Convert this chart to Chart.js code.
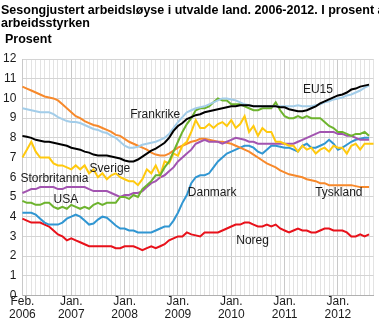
<!DOCTYPE html>
<html lang="no">
<head>
<meta charset="utf-8">
<title>Sesongjustert arbeidsløyse</title>
<script src="https://cdn.jsdelivr.net/npm/chart.js"></script>
<style>
  html, body { margin: 0; padding: 0; background: #fff; }
  #wrap { position: relative; width: 379px; height: 321px; }
</style>
</head>
<body>
<div id="wrap"><canvas id="chart"></canvas></div>
<script>
// Månader frå feb. 2006 til sep. 2012
const months = [];
for (let i = 0; i < 80; i++) {
    const t = 1 + i;
    months.push((2006 + Math.floor(t / 12)) + '-' + String(t % 12 + 1).padStart(2, '0'));
}

const eu15 = [8.1,8.05,8.0,7.9,7.85,7.8,7.8,7.75,7.7,7.65,7.6,
    7.5,7.45,7.4,7.3,7.25,7.15,7.1,7.1,7.1,7.05,7.0,6.95,
    6.85,6.8,6.8,6.9,7.05,7.2,7.35,7.45,7.6,7.75,8.0,8.35,
    8.6,8.75,8.95,9.05,9.15,9.2,9.3,9.35,9.4,9.45,9.5,9.55,
    9.6,9.6,9.65,9.65,9.65,9.6,9.6,9.6,9.6,9.6,9.6,9.55,
    9.55,9.45,9.4,9.35,9.35,9.4,9.5,9.6,9.75,9.85,9.95,10.05,
    10.15,10.2,10.3,10.45,10.5,10.6,10.65,10.7];

const frankrike = [9.5,9.45,9.4,9.35,9.3,9.3,9.3,9.2,9.05,8.95,8.85,
    8.8,8.8,8.75,8.65,8.55,8.45,8.4,8.3,8.25,8.1,8.0,7.8,
    7.6,7.5,7.5,7.55,7.65,7.7,7.75,7.8,7.9,8.0,8.2,8.5,
    8.8,9.05,9.3,9.4,9.5,9.55,9.6,9.7,9.8,9.9,10.0,10.0,
    9.95,9.9,9.8,9.7,9.65,9.6,9.6,9.6,9.6,9.6,9.6,9.6,
    9.6,9.6,9.6,9.65,9.6,9.6,9.6,9.65,9.7,9.8,9.85,9.95,
    10.0,10.05,10.15,10.2,10.3,10.4,10.55,10.65];

const tyskland = [10.6,10.5,10.4,10.3,10.2,10.1,10.05,10.0,9.9,9.7,9.5,
    9.3,9.1,9.0,8.85,8.75,8.65,8.6,8.5,8.4,8.3,8.15,8.1,
    7.95,7.8,7.7,7.6,7.5,7.4,7.25,7.15,7.1,7.1,7.2,7.35,
    7.5,7.6,7.7,7.8,7.85,7.95,7.95,7.9,7.85,7.8,7.8,7.75,
    7.7,7.6,7.5,7.4,7.3,7.15,7.0,6.85,6.7,6.6,6.5,6.35,
    6.25,6.15,6.1,6.05,6.0,5.9,5.85,5.8,5.7,5.7,5.6,5.6,
    5.6,5.6,5.6,5.6,5.55,5.5,5.5,5.5];

const sverige = [7.0,7.4,7.8,7.3,7.0,7.0,7.0,6.7,6.6,6.6,6.5,
    6.4,6.6,6.4,6.6,6.2,6.4,6.0,6.2,5.9,6.1,6.2,6.0,
    5.9,5.8,5.8,5.6,5.9,6.4,6.2,6.6,6.1,6.8,6.7,7.2,
    7.1,7.6,7.8,8.3,8.9,8.5,8.5,8.7,8.5,8.7,8.8,8.6,
    8.9,8.5,8.7,9.1,8.3,8.6,8.1,8.5,8.3,8.3,7.8,7.8,
    7.7,7.6,7.6,7.3,7.6,7.4,7.5,7.2,7.4,7.5,7.3,7.6,
    7.5,7.5,7.2,7.6,7.7,7.4,7.7,7.7,7.7];

const storbritannia = [5.2,5.3,5.4,5.4,5.5,5.5,5.5,5.5,5.4,5.4,5.5,
    5.5,5.5,5.5,5.5,5.4,5.3,5.3,5.3,5.3,5.2,5.1,5.0,
    5.1,5.1,5.2,5.2,5.3,5.5,5.7,5.8,6.0,6.1,6.3,6.5,
    6.8,7.0,7.2,7.4,7.7,7.8,7.9,7.8,7.8,7.8,7.7,7.8,
    7.9,8.0,7.95,7.9,7.8,7.8,7.7,7.7,7.7,7.7,7.7,7.7,
    7.7,7.7,7.7,7.8,7.9,8.0,8.1,8.2,8.3,8.3,8.3,8.3,
    8.2,8.2,8.1,8.1,8.0,7.9,7.9,7.9];

const usa = [4.8,4.7,4.7,4.6,4.6,4.7,4.7,4.5,4.4,4.5,4.4,
    4.6,4.5,4.4,4.5,4.4,4.6,4.7,4.6,4.7,4.7,4.7,5.0,
    5.0,4.9,5.1,5.0,5.4,5.6,5.8,6.1,6.1,6.5,6.8,7.3,
    7.8,8.3,8.7,9.0,9.4,9.5,9.5,9.6,9.8,10.0,9.9,9.9,
    9.7,9.7,9.7,9.6,9.5,9.4,9.4,9.5,9.5,9.5,9.8,9.4,
    9.1,9.0,9.0,9.1,9.0,9.1,9.0,9.0,9.0,8.8,8.6,8.5,
    8.3,8.3,8.2,8.1,8.2,8.2,8.3,8.1];

const danmark = [4.2,4.2,4.2,4.1,3.9,3.7,3.6,3.6,3.6,3.7,3.9,
    4.0,4.1,4.0,3.8,3.6,3.65,3.85,4.0,3.95,3.75,3.55,3.4,
    3.4,3.3,3.3,3.2,3.2,3.2,3.2,3.3,3.4,3.5,3.5,3.8,
    4.2,4.7,5.1,5.7,6.0,6.1,6.1,6.2,6.5,6.8,7.0,7.2,
    7.3,7.4,7.5,7.6,7.6,7.5,7.3,7.2,7.4,7.6,7.6,7.55,
    7.5,7.5,7.4,7.3,7.6,7.7,7.5,7.5,7.6,7.7,7.9,7.7,
    7.4,7.5,7.65,7.8,7.9,7.95,8.0,8.0];

const noreg = [3.9,3.8,3.7,3.7,3.7,3.6,3.5,3.3,3.1,3.0,2.8,
    2.9,2.8,2.7,2.6,2.5,2.5,2.5,2.5,2.5,2.5,2.4,2.4,
    2.5,2.5,2.5,2.4,2.3,2.4,2.5,2.4,2.5,2.6,2.8,2.9,
    3.0,3.0,3.2,3.1,3.05,3.0,3.2,3.2,3.2,3.2,3.3,3.4,
    3.5,3.6,3.6,3.7,3.7,3.6,3.5,3.5,3.6,3.5,3.6,3.4,
    3.3,3.2,3.3,3.4,3.3,3.3,3.2,3.2,3.3,3.4,3.4,3.3,
    3.3,3.3,3.2,3.0,3.0,3.1,3.0,3.1];

const yTicks = [0,1,2,3,4,5,6,7,8,9,10,11,12];

// Namn på linjene, plassert i dataområdet (månadsindeks, prosent)
const seriesLabels = [
    { text: 'EU15', i: 66.5, v: 10.45 },
    { text: 'Frankrike', i: 29.9, v: 9.15 },
    { text: 'Sverige', i: 19.7, v: 6.45 },
    { text: 'Storbritannia', i: 7.2, v: 5.95 },
    { text: 'USA', i: 9.8, v: 4.85 },
    { text: 'Danmark', i: 42.7, v: 5.2 },
    { text: 'Tyskland', i: 71.2, v: 5.2 },
    { text: 'Noreg', i: 51.8, v: 2.77 }
];

const FONT = '"Liberation Sans", Arial, sans-serif';

const textPlugin = {
    id: 'texts',
    afterDraw(chart) {
        const ctx = chart.ctx;
        const x = chart.scales.x, y = chart.scales.y;
        ctx.save();
        ctx.fillStyle = '#000';
        ctx.textBaseline = 'alphabetic';
        ctx.textAlign = 'left';
        ctx.font = 'bold 12.5px ' + FONT;
        ctx.fillText('Sesongjustert arbeidsløyse i utvalde land. 2006-2012. I prosent av', 1, 14);
        ctx.fillText('arbeidsstyrken', 1, 27);
        ctx.fillText('Prosent', 5, 42.5);

        ctx.font = '12px ' + FONT;
        ctx.fillStyle = '#1a1a1a';
        ctx.textAlign = 'center';
        ctx.textBaseline = 'middle';
        seriesLabels.forEach(l => {
            ctx.fillText(l.text, x.getPixelForValue(l.i), y.getPixelForValue(l.v));
        });
        ctx.restore();
    }
};

const mk = (label, data, color) => ({
    label, data,
    borderColor: color,
    backgroundColor: color,
    borderWidth: 2,
    pointRadius: 0,
    tension: 0,
    fill: false
});

new Chart(document.getElementById('chart'), {
    type: 'line',
    data: {
        labels: months,
        datasets: [
            mk('EU15', eu15, '#000000'),
            mk('Frankrike', frankrike, '#a3cde9'),
            mk('USA', usa, '#6db32e'),
            mk('Sverige', sverige, '#ffc90e'),
            mk('Storbritannia', storbritannia, '#a254b0'),
            mk('Tyskland', tyskland, '#f7892b'),
            mk('Danmark', danmark, '#3096d2'),
            mk('Noreg', noreg, '#e8111a')
        ]
    },
    options: {
        responsive: true,
        maintainAspectRatio: false,
        animation: false,
        layout: { padding: { top: 59, right: 5.5, left: 0, bottom: 0 } },
        plugins: {
            legend: { display: false },
            title: { display: false },
            tooltip: { enabled: false }
        },
        scales: {
            x: {
                type: 'category',
                offset: false,
                afterFit: s => { s.height = 25.5; },
                grid: {
                    drawTicks: false,
                    offset: false,
                    color: c => {
                        const m = months[c.index] || '';
                        return (c.index === 0 || m.endsWith('-01')) ? '#c9c9c9' : '#e3e3e3';
                    },
                    lineWidth: 1
                },
                border: { display: true, color: '#b0b0b0' },
                ticks: {
                    autoSkip: false,
                    maxRotation: 0,
                    padding: 0,
                    color: '#1a1a1a',
                    font: { family: FONT, size: 12, lineHeight: 1.06 },
                    callback: (val, idx) => {
                        const m = months[idx];
                        const [yr, mo] = m.split('-');
                        if (idx === 0) return ['Feb.', yr];
                        if (mo === '01') return ['Jan.', yr];
                        return '';
                    }
                }
            },
            y: {
                min: 0,
                max: 12,
                afterFit: s => { s.width = 22.4; },
                afterBuildTicks: s => { s.ticks = yTicks.map(v => ({ value: v })); },
                grid: { drawTicks: false, color: '#d4d4d4', lineWidth: 1 },
                border: { display: true, color: '#c9c9c9' },
                ticks: {
                    padding: 6,
                    color: '#1a1a1a',
                    font: { family: FONT, size: 12 }
                }
            }
        }
    },
    plugins: [textPlugin]
});
</script>
</body>
</html>
